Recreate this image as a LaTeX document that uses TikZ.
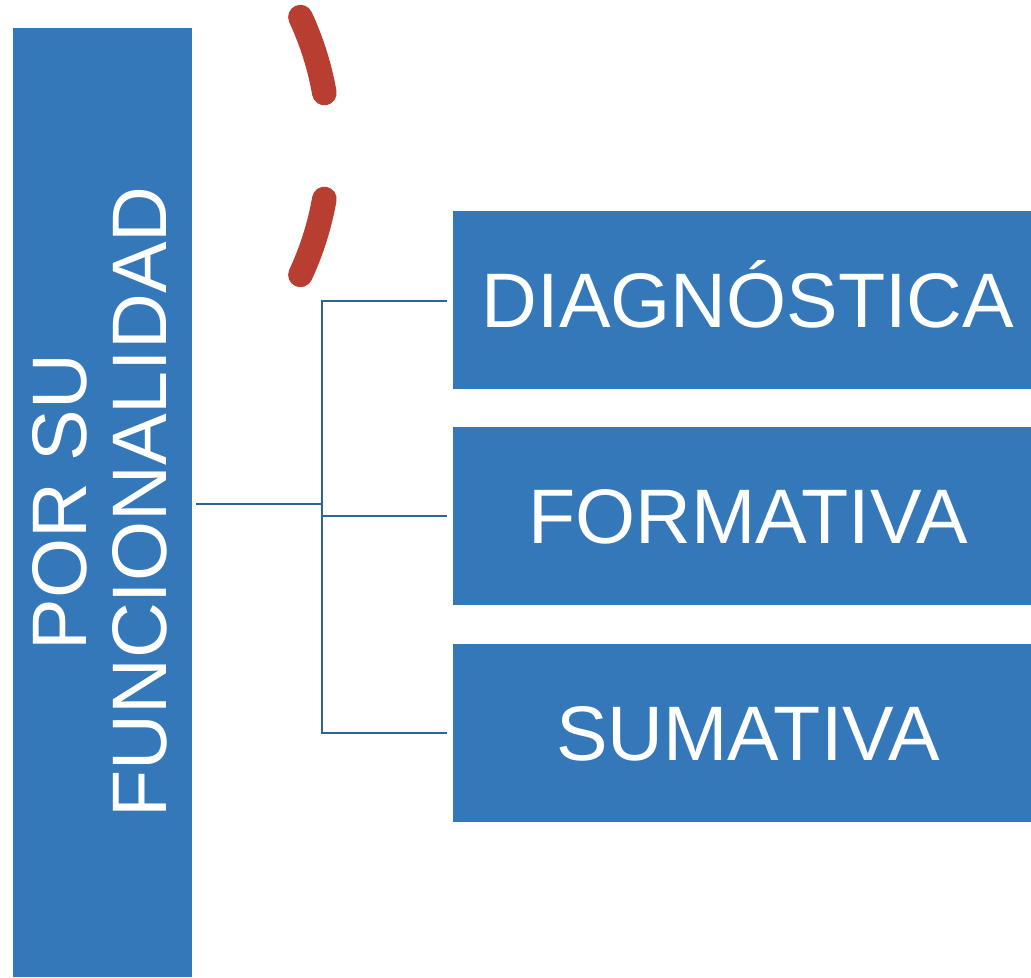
\documentclass[tikz,border=0pt]{standalone}
\usepackage{fontspec}
\setmainfont{Liberation Sans}
\usetikzlibrary{calc}
\definecolor{boxblue}{RGB}{52,120,185}
\definecolor{linkblue}{RGB}{46,99,152}
\definecolor{arcred}{RGB}{184,62,50}
\begin{document}
\begin{tikzpicture}[x=0.02cm,y=0.02cm,
  bigfont/.style={font=\fontsize{44}{45}\selectfont},
  leafbox/.style={fill=boxblue, text=white, bigfont, minimum width=11.8cm, minimum height=3.56cm,
    inner sep=0pt, text height=31.5pt, text depth=0pt},
  rootbox/.style={fill=boxblue, minimum width=3.58cm, minimum height=18.98cm, inner sep=0pt},
  vtext/.style={text=white, bigfont, rotate=90, anchor=base, inner sep=0pt},
  link/.style={draw=linkblue, line width=1.4pt},
  dashmark/.style={draw=arcred, line width=14pt, line cap=round}]
\useasboundingbox (0,0) rectangle (1031,977);
\clip (0,0) rectangle (1031,977);
% root
\node[rootbox] (root) at (102.5,474.5) {};
\node[vtext] (t1) at (86,475) {POR SU};
\node[vtext] (t2) at (166,475) {FUNCIONALIDAD};
% leaves
\node[leafbox] (d) at (748,677) {DIAGNÓSTICA};
\node[leafbox] (f) at (748,461) {FORMATIVA};
\node[leafbox] (s) at (748,244) {SUMATIVA};
% connectors
\coordinate (j) at (322,473);
\draw[link, shorten <=2] (root.east |- j) -- (j);
\draw[link, shorten >=3] (j) |- (d.west |- 0,676);
\draw[link, shorten >=3] (j) |- (f.west |- 0,461);
\draw[link, shorten >=3] (j) |- (s.west |- 0,244);
% red dashes
\coordinate (c) at (24,831);
\draw[dashmark] ($(c)+(25:305)$) arc[start angle=25, end angle=10, radius=305];
\draw[dashmark] ($(c)+(-10:305)$) arc[start angle=-10, end angle=-25, radius=305];
\end{tikzpicture}
\end{document}
